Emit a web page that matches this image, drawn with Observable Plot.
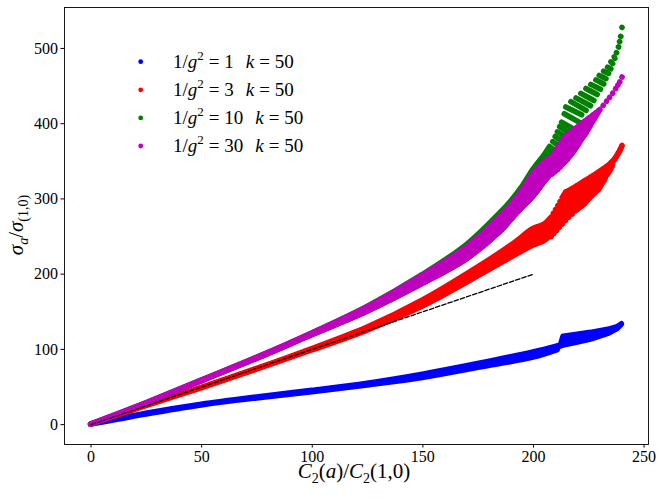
<!DOCTYPE html>
<html><head><meta charset="utf-8">
<script src="https://cdn.jsdelivr.net/npm/d3@7"></script>
<script src="https://cdn.jsdelivr.net/npm/@observablehq/plot@0.6"></script>
<style>
body{margin:0;background:#fff;}
#wrap{position:relative;width:664px;height:498px;}
</style></head><body><div id="wrap"></div>
<script>
// ---- data ----
const X_TICKS = [0, 50, 100, 150, 200, 250];
const Y_TICKS = [0, 100, 200, 300, 400, 500];
const LEGEND_VALUES = ["1", "3", "10", "30"];
const K_VALUE = "50";
const COLORS = ["#0000ff", "#ff0000", "#008000", "#bf00bf"];

// 1/g^2 = 1 (blue)
const blueX  = [0, 25, 50, 75, 100, 125, 150, 175, 200, 211];
const blueLo = [0, 13.5, 25.5, 34.8, 43, 52, 62, 75.5, 89, 99];
const blueHi = [0, 14.5, 26.5, 36.2, 45, 54.5, 66.5, 80.5, 96, 104];
const blueFanX  = [210.5, 212.5, 213.6, 220, 226, 233.8, 238, 240];
const blueFanLo = [101, 104, 105, 109, 113, 120.5, 127, 133];
const blueFanHi = [103, 106, 117, 119.5, 122, 126, 129.5, 133.5];

// 1/g^2 = 3 (red)
const redX  = [0, 25, 50, 75, 100, 125, 150, 175, 190, 200, 205, 207.5];
const redLo = [0, 24.5, 48.2, 73, 98.5, 125, 157, 197, 222, 238, 244, 250];
const redHi = [0, 24.5, 48.8, 74, 100.5, 129, 165, 209, 238, 260, 266, 273];
const redRayX1 = [205, 206, 207, 208, 209, 210, 211, 212, 213, 213.8, 214.5, 215.5, 216.5, 217.5, 218.5, 219.5, 220.5, 221.5, 222.5, 223.5, 224.5, 225.5, 226.5, 227.5, 228.5, 229.5, 230.5, 231.5, 232.5, 233.4, 234.3, 235.1, 236, 236.7, 237.3, 237.8, 238.3, 238.8, 239.2, 239.6, 240];
const redRayY1 = [261, 266, 271, 276, 281, 286, 291.2, 296.7, 302.2, 306, 309.2, 310.7, 312.2, 314, 315.7, 317.5, 319.2, 321.2, 323.2, 325, 326.7, 328.5, 330.2, 332.2, 334.2, 336.2, 338.2, 340.2, 342.2, 344.2, 346.2, 348.7, 351.2, 353.6, 356, 358.5, 361, 363.5, 366, 368.5, 371];
const redRayX2 = [208, 209.2, 210.5, 211.7, 213, 214.4, 215.9, 217.5, 219.1, 220.2, 221.3, 222.1, 223, 223.7, 224.4, 225.2, 226, 226.8, 227.7, 228.5, 229.4, 230, 230.6, 231.2, 231.9, 232.4, 233, 233.7, 234.4, 234.9, 235.5, 235.8, 236.2, 236.8, 237.4, 237.9, 238.4, 238.9, 239.3, 239.7, 240.05];
const redRayY2 = [250, 254, 258, 262.2, 266.5, 271, 275.5, 279.8, 284.1, 286.6, 289.1, 291.1, 293.2, 295.7, 298.3, 300.6, 303, 305.4, 307.8, 310, 312.3, 315.2, 318.1, 321.1, 324.2, 327.5, 330.9, 333.8, 336.8, 339.8, 342.8, 346.6, 350.5, 353, 355.6, 358.1, 360.6, 363.1, 365.6, 368.2, 370.8];

// 1/g^2 = 10 (green)
const greenX  = [0, 25, 50, 75, 100, 125, 150, 170, 185, 190, 195, 200, 205, 207.5];
const greenLo = [0, 28.5, 57.5, 87.3, 118.8, 150, 187, 220, 256, 272, 288, 303, 322, 331];
const greenHi = [0, 28.5, 58.5, 88.7, 121.2, 156.5, 199, 239, 281, 297, 316, 339, 358, 369];
const greenRayX1 = [206.2, 207.5, 208.7, 209.8, 210.8, 211.8, 212.7, 213.9, 214.6, 216.9, 219.2, 221.4, 223.7, 225.9, 228.2, 229.7, 231.7, 233.5, 235, 236.5, 237.5, 238.4, 238.9, 239.4, 240];
const greenRayY1 = [362.2, 369, 376.2, 383, 389.2, 396, 402.2, 413.2, 422.2, 429.2, 434.2, 440.2, 446.8, 452.2, 458.2, 464.2, 469.8, 475.2, 482.2, 488.9, 494.5, 502, 509, 516, 528];
const greenRayX2 = [210.8, 212.3, 213.8, 215.3, 216.8, 217.8, 218.8, 220.8, 221.8, 223.8, 225.8, 227.3, 228.8, 230.3, 231.8, 232.8, 234, 235, 235.8, 236.8, 237.6, 238.5, 239, 239.5, 240.05];
const greenRayY2 = [353.8, 359.8, 365.8, 371.8, 377.8, 384.8, 391.8, 401.8, 411.8, 417.8, 423.8, 430.8, 438.8, 445.8, 452.8, 459.8, 466.8, 472.8, 479.8, 486.8, 494.3, 501.8, 508.8, 515.8, 527.9];

// 1/g^2 = 30 (magenta)
const magX  = [0, 25, 50, 75, 100, 125, 150, 170, 185, 190, 195, 200, 205, 207.5];
const magLo = [0, 28.5, 57.5, 87.3, 118.8, 150, 187, 220, 256, 272, 288, 303, 322, 331];
const magHi = [0, 28.5, 58.5, 88.7, 121.2, 156, 198, 236, 276, 292, 311, 333, 348, 354];
const magRayX1 = [206, 206.8, 207.5, 208.2, 209, 209.8, 210.5, 211.2, 212, 212.8, 213.5, 214.2, 215, 215.8, 216.7, 217.6, 218.5, 219.5, 220.5, 221.4, 222.3, 223.2, 224.2, 225.1, 226, 227, 228, 229, 230, 231.5, 233, 234.4, 235.8, 237.1, 238.1, 239, 240];
const magRayY1 = [344, 348, 352, 355.6, 359.2, 362.7, 366.2, 369.7, 373.2, 376.2, 379.2, 382, 384.7, 386.5, 388.2, 390.5, 392.7, 395, 397.2, 399.5, 401.7, 403.8, 405.8, 407.8, 409.7, 412, 414.2, 416.5, 418.8, 424.2, 429.8, 435, 440.5, 446.5, 451.2, 455.5, 462];
const magRayX2 = [208.5, 209.8, 211, 212.2, 213.4, 214.3, 215.3, 216.1, 217, 217.8, 218.5, 219.2, 219.8, 220.4, 220.9, 221.6, 222.3, 223.1, 223.8, 224.4, 225, 225.6, 226.2, 226.8, 227.4, 228.1, 228.7, 229.4, 230.05, 231.55, 233.05, 234.45, 235.85, 237.2, 238.2, 239.05, 240.05];
const magRayY2 = [333, 336, 339, 342.6, 346.2, 349.1, 352, 355.2, 358.4, 361.4, 364.3, 367.2, 370, 372.7, 375.3, 378.3, 381.3, 384.5, 387.6, 390.6, 393.6, 396.8, 400, 402.8, 405.7, 409, 412.2, 415.4, 418.6, 424.1, 429.7, 434.9, 440.4, 446.4, 451.1, 455.4, 461.9];

// reference dashed line
const dashX = [0, 200];
const dashY = [0, 200];

// ---- helpers ----
const band = (xs, lo, hi) => xs.map((x, i) => ({x, lo: lo[i], hi: hi[i]}));
const rays = (x1, y1, x2, y2) => x1.map((_, i) => ({x1: x1[i], y1: y1[i], x2: x2[i], y2: y2[i]}));
const W = 5.5;
const bandMark = (d, c, curve) => Plot.areaY(d, {x: "x", y1: "lo", y2: "hi", fill: c, stroke: c, strokeWidth: W, strokeLinejoin: "round", curve});
const rayMark = (d, c) => Plot.link(d, {x1: "x1", y1: "y1", x2: "x2", y2: "y2", stroke: c, strokeWidth: W, strokeLinecap: "round"});

const plot = Plot.plot({
  width: 664, height: 498,
  marginLeft: 64, marginRight: 16, marginTop: 7, marginBottom: 54,
  x: {domain: [-12, 252]},
  y: {domain: [-26.4, 554.4]},
  style: {fontFamily: "'Liberation Serif', serif", fontSize: "16px", color: "black", background: "white"},
  marks: [
    bandMark(band(blueX, blueLo, blueHi), COLORS[0], "catmull-rom"),
    bandMark(band(blueFanX, blueFanLo, blueFanHi), COLORS[0], "linear"),
    bandMark(band(redX, redLo, redHi), COLORS[1], "catmull-rom"),
    rayMark(rays(redRayX1, redRayY1, redRayX2, redRayY2), COLORS[1]),
    bandMark(band(greenX, greenLo, greenHi), COLORS[2], "catmull-rom"),
    rayMark(rays(greenRayX1, greenRayY1, greenRayX2, greenRayY2), COLORS[2]),
    bandMark(band(magX, magLo, magHi), COLORS[3], "catmull-rom"),
    rayMark(rays(magRayX1, magRayY1, magRayX2, magRayY2), COLORS[3]),
    Plot.line(dashX.map((x, i) => ({x, y: dashY[i]})), {x: "x", y: "y", stroke: "black", strokeWidth: 1.3, strokeDasharray: "4.5,2"}),
    Plot.frame({stroke: "black", strokeWidth: 0.9}),
    Plot.axisX({ticks: X_TICKS, tickSize: 3.5, tickPadding: 3, label: null, stroke: "black"}),
    Plot.axisY({ticks: Y_TICKS, tickSize: 3.5, tickPadding: 3, label: null, stroke: "black"})
  ]
});
document.getElementById("wrap").appendChild(plot);

// ---- labels and legend ----
const svg = d3.select(plot);
const FONT = "'Liberation Serif', serif";

// x label
const xl = svg.append("text").attr("x", 354).attr("y", 478).attr("text-anchor", "middle")
  .attr("font-family", FONT).attr("font-size", 21).attr("fill", "black");
xl.append("tspan").attr("font-style", "italic").text("C");
xl.append("tspan").attr("font-size", 14).attr("dy", 5).text("2");
xl.append("tspan").attr("dy", -5).text("(");
xl.append("tspan").attr("font-style", "italic").text("a");
xl.append("tspan").text(")/");
xl.append("tspan").attr("font-style", "italic").text("C");
xl.append("tspan").attr("font-size", 14).attr("dy", 5).text("2");
xl.append("tspan").attr("dy", -5).text("(1,0)");

// y label
const yl = svg.append("text").attr("transform", "translate(23,225) rotate(-90)").attr("text-anchor", "middle")
  .attr("font-family", FONT).attr("font-size", 21).attr("fill", "black");
yl.append("tspan").attr("font-style", "italic").text("σ");
yl.append("tspan").attr("font-size", 14).attr("font-style", "italic").attr("dy", 5).text("a");
yl.append("tspan").attr("dy", -5).text("/");
yl.append("tspan").attr("font-style", "italic").text("σ");
yl.append("tspan").attr("font-size", 14).attr("dy", 5).text("(1,0)");

// legend
LEGEND_VALUES.forEach((v, i) => {
  const cy = 61.7 + i * 28.1;
  svg.append("circle").attr("cx", 140.7).attr("cy", cy).attr("r", 2.4).attr("fill", COLORS[i]);
  const t = svg.append("text").attr("x", 173).attr("y", cy + 5.8).attr("text-anchor", "start")
    .attr("font-family", FONT).attr("font-size", 19).attr("fill", "black");
  t.append("tspan").text("1/");
  t.append("tspan").attr("font-style", "italic").text("g");
  t.append("tspan").attr("font-size", 13).attr("dy", -8).text("2");
  t.append("tspan").attr("dy", 8).attr("dx", 5).text("= " + v);
  t.append("tspan").attr("dx", 12).attr("font-style", "italic").text("k");
  t.append("tspan").attr("dx", 5).text("= " + K_VALUE);
});
</script></body></html>
